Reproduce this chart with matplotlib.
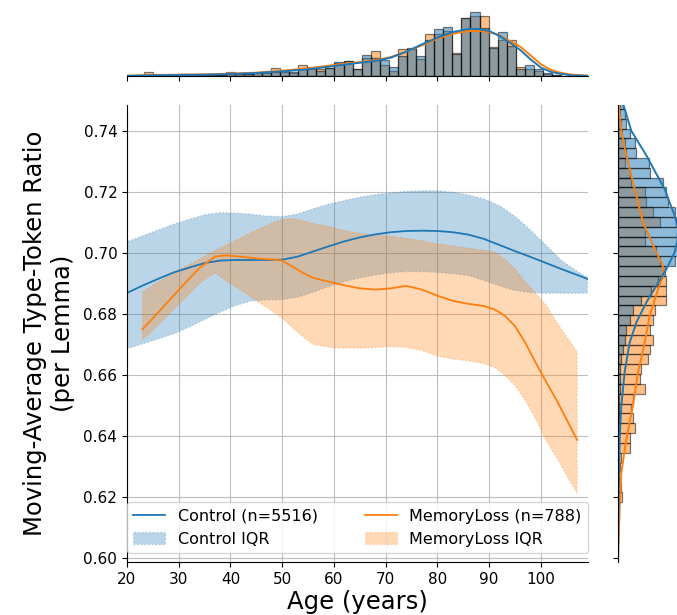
import numpy as np
import matplotlib.pyplot as plt

BLUE = "#1f77b4"
ORANGE = "#ff7f0e"

# ---- main panel: smoothed MATTR by age, median line and IQR band ----
control_age = [20, 23, 26, 29, 32, 35, 38, 41, 44, 47, 50, 53, 56, 59, 62, 65,
               68, 71, 74, 77, 80, 83, 86, 89, 92, 95, 98, 101, 104, 107, 109]
control_mid = [.6869, .6893, .6915, .6936, .6952, .6967, .6975, .6977, .6977,
               .6977, .6978, .6988, .7005, .7022, .7038, .7051, .7061, .7068,
               .7072, .7073, .7072, .7068, .7060, .7046, .7026, .7006, .6987,
               .6967, .6947, .6928, .6915]
control_q3 = [.7037, .7056, .7075, .7094, .7110, .7125, .7132, .7131, .7127,
              .7121, .7119, .7128, .7145, .7160, .7172, .7183, .7191, .7197,
              .7202, .7204, .7204, .7199, .7190, .7177, .7155, .7120, .7075,
              .7025, .6975, .6940, .6920]
control_q1 = [.6686, .6702, .6718, .6735, .6757, .6782, .6806, .6828, .6843,
              .6846, .6847, .6855, .6872, .6890, .6906, .6918, .6928, .6935,
              .6939, .6939, .6936, .6932, .6926, .6910, .6892, .6877, .6870,
              .6868, .6868, .6868, .6868]

memory_age = [23, 25, 28, 31, 34, 37, 39, 42, 45, 48, 50, 52, 54, 56, 59, 62,
              65, 68, 71, 74, 77, 80, 83, 86, 89, 91, 93, 95, 97, 99, 101, 103,
              105, 107]
memory_mid = [.6750, .6786, .6842, .6897, .6951, .6988, .6992, .6988, .6982,
              .6979, .6975, .6955, .6935, .6918, .6906, .6894, .6884, .6880,
              .6884, .6892, .6880, .6860, .6843, .6833, .6826, .6815, .6795,
              .6760, .6705, .6640, .6578, .6518, .6453, .6387]
memory_q3 = [.6873, .6895, .6924, .6953, .6980, .7008, .7025, .7050, .7075,
             .7098, .7110, .7113, .7106, .7097, .7086, .7074, .7064, .7059,
             .7055, .7048, .7040, .7030, .7023, .7016, .7009, .7003, .6980,
             .6948, .6905, .6868, .6830, .6775, .6725, .6676]
memory_q1 = [.6715, .6747, .6797, .6848, .6900, .6935, .6910, .6878, .6843,
             .6810, .6786, .6755, .6725, .6700, .6691, .6688, .6688, .6690,
             .6693, .6690, .6680, .6662, .6652, .6646, .6637, .6625, .6600,
             .6565, .6515, .6455, .6385, .6330, .6270, .6212]

control_n = 5516
memory_n = 788

# ---- top marginal: age distribution (density, arbitrary units) ----
age_bin_start = 23.285
age_bin_width = 1.7527
control_age_hist = [4, 3, 2, 2, 6, 3, 3, 3, 4, 5, 5, 6, 8, 12, 13, 14, 12, 20,
                    27, 15, 25, 42, 44, 20, 62, 55, 47, 27, 60, 83, 60, 107,
                    140, 148, 65, 175, 192, 145, 85, 132, 90, 20, 33, 20, 10, 4]
memory_age_hist = [12, 3, 2, 2, 7, 3, 3, 3, 4, 12, 5, 6, 8, 10, 23, 11, 8, 32,
                   20, 22, 25, 40, 44, 21, 53, 75, 33, 15, 80, 82, 50, 127,
                   125, 135, 70, 173, 180, 180, 88, 107, 107, 27, 20, 15, 7, 4]
kde_age = [20, 25, 30, 35, 40, 45, 50, 55, 60, 64, 68, 71, 74, 77, 80, 83, 86,
           88, 90, 92, 94, 96, 98, 100, 102, 104, 106, 109]
control_age_kde = [0.5, 2, 3, 4, 6, 9, 14, 20, 30, 38, 45, 55, 73, 95, 115,
                   132, 141, 141, 135, 120, 100, 78, 50, 25, 12, 6, 2, 0.5]
memory_age_kde = [1, 3, 4, 5, 7, 10, 16, 23, 33, 40, 47, 57, 73, 92, 112, 127,
                  135, 135, 132, 122, 105, 88, 62, 35, 18, 9, 4, 1]

# ---- right marginal: MATTR distribution (density, arbitrary units) ----
mattr_bin_start = 0.5991
mattr_bin_width = 0.00322
control_mattr_hist = [0, 0, 0, 0, 0, 0, 1, 1, 1, 1, 1, 2, 2, 2, 3, 3, 4, 5, 6,
                      5, 10, 15, 20, 25, 35, 45, 70, 100, 120, 140, 172, 185,
                      190, 185, 175, 170, 150, 145, 135, 95, 93, 55, 50, 35,
                      25, 20, 15]
memory_mattr_hist = [1, 1, 1, 1, 2, 2, 12, 8, 3, 5, 10, 35, 35, 50, 45, 40, 45,
                     80, 65, 70, 90, 95, 105, 95, 105, 110, 145, 145, 145, 135,
                     125, 115, 80, 80, 125, 105, 85, 80, 40, 35, 20, 25, 20, 12,
                     8, 5, 5]
control_kde_mattr = [.600, .6225, .639, .650, .661, .6706, .6772, .6838, .6893,
                     .6947, .7002, .7040, .7079, .7123, .7165, .721, .7265,
                     .732, .740, .749]
control_mattr_kde = [0, 2, 5, 10, 20, 35, 55, 85, 115, 145, 170, 178, 180, 170,
                     155, 140, 112, 85, 40, 15]
memory_kde_mattr = [.6005, .617, .628, .639, .650, .6608, .6706, .6794, .688,
                    .6925, .6958, .7013, .710, .721, .732, .740, .749]
memory_mattr_kde = [0, 5, 10, 25, 45, 60, 80, 95, 120, 135, 135, 110, 75, 50,
                    25, 10, 2]


def hide_spines(ax, keep):
    for side in ["top", "bottom", "left", "right"]:
        ax.spines[side].set_visible(side in keep)


W, H = 677, 615
fig = plt.figure(figsize=(W / 100, H / 100), dpi=100)

# axes boxes in pixels: left, top, right, bottom
ax = fig.add_axes([127 / W, 1 - 562 / H, 461 / W, 457 / H])
ax_top = fig.add_axes([127 / W, 1 - 76 / H, 461 / W, 76 / H], sharex=ax)
ax_right = fig.add_axes([618 / W, 1 - 562 / H, 82 / W, 457 / H], sharey=ax)

# main panel
ax.plot(control_age, control_mid, color=BLUE, lw=1.3,
        label=f"Control (n={control_n})")
ax.fill_between(control_age, control_q1, control_q3, color=BLUE, alpha=0.3,
                linestyle=":", lw=1, label="Control IQR")
ax.plot(memory_age, memory_mid, color=ORANGE, lw=1.3,
        label=f"MemoryLoss (n={memory_n})")
ax.fill_between(memory_age, memory_q1, memory_q3, color=ORANGE, alpha=0.3,
                linestyle=":", lw=1, label="MemoryLoss IQR")

ax.set_xlim(20, 109.1)
ax.set_ylim(0.5987, 0.7485)
ax.set_xticks(np.arange(20, 101, 10))
ax.set_yticks(np.arange(0.60, 0.745, 0.02))
ax.yaxis.set_major_formatter(plt.FormatStrFormatter("%.2f"))
ax.grid(True, color="#b0b0b0", lw=0.8, alpha=0.8)
ax.set_axisbelow(True)
hide_spines(ax, ["left", "bottom"])
ax.tick_params(labelsize=11)
ax.set_xlabel("Age (years)", fontsize=17.5, labelpad=2)
ax.set_ylabel("Moving-Average Type-Token Ratio\n(per Lemma)", fontsize=17.5,
              labelpad=6)
ax.legend(loc="lower left", ncol=2, mode="expand", fontsize=11.5,
          bbox_to_anchor=(0, 9 / 457, 1, 0.2), borderaxespad=0)

# top marginal: age histogram + kde
age_edges = age_bin_start + age_bin_width * np.arange(len(control_age_hist))
ax_top.bar(age_edges, memory_age_hist, width=age_bin_width, align="edge",
           color=ORANGE, alpha=0.5, edgecolor="black", lw=0.9)
ax_top.bar(age_edges, control_age_hist, width=age_bin_width, align="edge",
           color=BLUE, alpha=0.5, edgecolor="black", lw=0.9)
ax_top.plot(kde_age, memory_age_kde, color=ORANGE, lw=1.4)
ax_top.plot(kde_age, control_age_kde, color=BLUE, lw=1.4)
ax_top.set_ylim(0, 228)
hide_spines(ax_top, ["bottom"])
ax_top.tick_params(labelbottom=False, left=False, labelleft=False)

# right marginal: MATTR histogram + kde
mattr_edges = mattr_bin_start + mattr_bin_width * np.arange(len(control_mattr_hist))
ax_right.barh(mattr_edges, memory_mattr_hist, height=mattr_bin_width,
              align="edge", color=ORANGE, alpha=0.5, edgecolor="black", lw=0.9)
ax_right.barh(mattr_edges, control_mattr_hist, height=mattr_bin_width,
              align="edge", color=BLUE, alpha=0.5, edgecolor="black", lw=0.9)
ax_right.plot(memory_mattr_kde, memory_kde_mattr, color=ORANGE, lw=1.4)
ax_right.plot(control_mattr_kde, control_kde_mattr, color=BLUE, lw=1.4)
ax_right.set_xlim(0, 246)
hide_spines(ax_right, ["left"])
ax_right.tick_params(labelleft=False, bottom=False, labelbottom=False)

fig.savefig("out.png", dpi=100)
